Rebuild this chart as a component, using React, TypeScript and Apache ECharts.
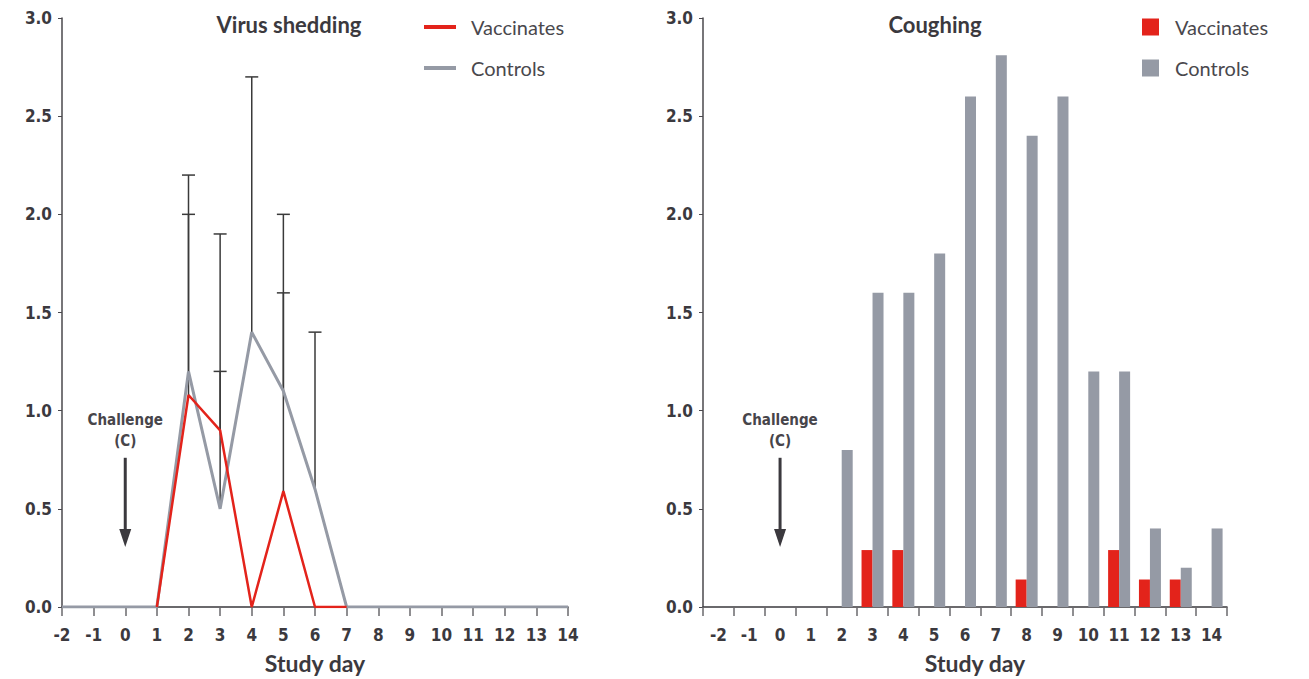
import React, { useEffect, useRef } from "react";
import * as echarts from "echarts";

// ---------- data ----------
const days = [-2, -1, 0, 1, 2, 3, 4, 5, 6, 7, 8, 9, 10, 11, 12, 13, 14];
const dayLabels = days.map((d) => String(d));

// Virus shedding (left)
const shedVaccDays = [1, 2, 3, 4, 5, 6, 7];
const shedVaccValues = [0, 1.08, 0.9, 0, 0.59, 0, 0];
const shedCtrlValues = [0, 0, 0, 0, 1.2, 0.5, 1.4, 1.1, 0.6, 0, 0, 0, 0, 0, 0, 0, 0];

// error bars (upper deviation)
const errDays = [2, 2, 3, 3, 4, 5, 5, 6];
const errLow = [1.2, 1.08, 0.5, 0.9, 1.4, 1.1, 0.59, 0.6];
const errHigh = [2.2, 2.0, 1.9, 1.2, 2.7, 2.0, 1.6, 1.4];

// Coughing (right)
const coughVaccValues = [0, 0, 0, 0, 0, 0.29, 0.29, 0, 0, 0, 0.14, 0, 0, 0.29, 0.14, 0.14, 0];
const coughCtrlValues = [0, 0, 0, 0, 0.8, 1.6, 1.6, 1.8, 2.6, 2.81, 2.4, 2.6, 1.2, 1.2, 0.4, 0.2, 0.4];

const RED = "#e3231b";
const GRAY = "#959aa5";
const DARK = "#3b393e";
const NUM_FONT = "'Liberation Sans Narrow', 'DejaVu Sans Condensed', Roboto, sans-serif";
const TXT_FONT = "Lato, 'Open Sans', sans-serif";

function annotationRender(params: any, api: any) {
  const x = api.value(0);
  const pText = api.coord([x, api.value(1)]);
  const pTop = api.coord([x, api.value(2)]);
  const pTip = api.coord([x, api.value(3)]);
  const headH = 18;
  const headW = 12;
  return {
    type: "group",
    children: [
      {
        type: "text",
        style: {
          text: "Challenge",
          x: pText[0],
          y: pText[1],
          align: "center",
          verticalAlign: "middle",
          fill: "#47454a",
          font: "bold 15px " + NUM_FONT,
        },
      },
      {
        type: "text",
        style: {
          text: "(C)",
          x: pText[0],
          y: pText[1] + 21,
          align: "center",
          verticalAlign: "middle",
          fill: "#47454a",
          font: "bold 15px " + NUM_FONT,
        },
      },
      {
        type: "line",
        shape: { x1: pTop[0], y1: pTop[1], x2: pTip[0], y2: pTip[1] - headH + 2 },
        style: { stroke: DARK, lineWidth: 3 },
      },
      {
        type: "polygon",
        shape: {
          points: [
            [pTip[0] - headW / 2, pTip[1] - headH],
            [pTip[0] + headW / 2, pTip[1] - headH],
            [pTip[0], pTip[1]],
          ],
        },
        style: { fill: DARK },
      },
    ],
  };
}

export default function App() {
  const ref = useRef<HTMLDivElement>(null);
  useEffect(() => {
    if (!ref.current) return;
    const chart = echarts.init(ref.current, null, { renderer: "svg" });

    const yAxisBase = {
      type: "value",
      min: 0,
      max: 3,
      interval: 0.5,
      axisLine: { show: true, onZero: false, lineStyle: { color: "#4a484d", width: 1.5 } },
      axisTick: { show: true, length: 4, lineStyle: { color: "#4a484d", width: 1 } },
      splitLine: { show: false },
      axisLabel: {
        margin: 10,
        color: DARK,
        fontFamily: NUM_FONT,
        fontWeight: "bold",
        fontSize: 17,
        formatter: (v: number) => v.toFixed(1),
      },
    };
    const xLabel = {
      margin: 19,
      color: DARK,
      fontFamily: NUM_FONT,
      fontWeight: "bold",
      fontSize: 17,
    };
    const xName = {
      name: "Study day",
      nameLocation: "middle",
      nameGap: 44,
      nameTextStyle: { color: DARK, fontFamily: TXT_FONT, fontWeight: "bold", fontSize: 23 },
    };
    const legendText = {
      color: "#4a484d",
      fontFamily: TXT_FONT,
      fontSize: 20,
      lineHeight: 22,
    };

    const option: any = {
      animation: false,
      title: [
        {
          text: "Virus shedding",
          left: 284,
          top: 8,
          textAlign: "center",
          textStyle: { color: DARK, fontFamily: TXT_FONT, fontWeight: "bold", fontSize: 22 },
        },
        {
          text: "Coughing",
          left: 930,
          top: 8,
          textAlign: "center",
          textStyle: { color: DARK, fontFamily: TXT_FONT, fontWeight: "bold", fontSize: 22 },
        },
      ],
      legend: [
        {
          orient: "vertical",
          left: 419,
          top: 11,
          icon: "rect",
          itemWidth: 32,
          itemHeight: 4,
          itemGap: 19,
          data: ["Vaccinates", "Controls"],
          selectedMode: false,
          textStyle: { ...legendText, padding: [0, 0, 0, 10] },
        },
        {
          orient: "vertical",
          left: 1137,
          top: 11,
          icon: "rect",
          itemWidth: 17,
          itemHeight: 17,
          itemGap: 19,
          data: ["Vaccinates", "Controls"],
          selectedMode: false,
          textStyle: { ...legendText, padding: [0, 0, 0, 11] },
        },
      ],
      grid: [
        { left: 62, right: 741, top: 18, bottom: 71 },
        { left: 703, right: 82, top: 18, bottom: 71 },
      ],
      xAxis: [
        {
          gridIndex: 0,
          type: "value",
          min: -2,
          max: 14,
          interval: 1,
          axisLine: { show: true, onZero: false, lineStyle: { color: "#3a383d", width: 1.5 } },
          axisTick: { show: true, length: 9, lineStyle: { color: "#6a686d", width: 1.5 } },
          splitLine: { show: false },
          axisLabel: xLabel,
          ...xName,
        },
        {
          gridIndex: 1,
          type: "category",
          data: dayLabels,
          boundaryGap: true,
          axisLine: { show: true, onZero: false, lineStyle: { color: "#3a383d", width: 1.5 } },
          axisTick: { show: true, length: 9, alignWithLabel: false, lineStyle: { color: "#6a686d", width: 1.5 } },
          axisLabel: { ...xLabel, interval: 0 },
          ...xName,
          nameTextStyle: { ...xName.nameTextStyle, padding: [0, 0, 0, 20] },
        },
      ],
      yAxis: [
        { ...yAxisBase, gridIndex: 0 },
        { ...yAxisBase, gridIndex: 1 },
      ],
      series: [
        {
          name: "errorbars",
          type: "custom",
          xAxisIndex: 0,
          yAxisIndex: 0,
          z: 1,
          silent: true,
          data: errDays.map((d, i) => [d, errLow[i], errHigh[i]]),
          renderItem: (params: any, api: any) => {
            const lo = api.coord([api.value(0), api.value(1)]);
            const hi = api.coord([api.value(0), api.value(2)]);
            const hw = 6.5;
            return {
              type: "group",
              children: [
                {
                  type: "line",
                  shape: { x1: lo[0], y1: lo[1], x2: hi[0], y2: hi[1] },
                  style: { stroke: "#3a3a3a", lineWidth: 1.5 },
                },
                {
                  type: "line",
                  shape: { x1: hi[0] - hw, y1: hi[1], x2: hi[0] + hw, y2: hi[1] },
                  style: { stroke: "#3a3a3a", lineWidth: 1.5 },
                },
              ],
            };
          },
        },
        {
          name: "Controls",
          type: "line",
          xAxisIndex: 0,
          yAxisIndex: 0,
          z: 2,
          color: GRAY,
          showSymbol: false,
          symbol: "none",
          lineStyle: { color: GRAY, width: 3 },
          data: days.map((d, i) => [d, shedCtrlValues[i]]),
        },
        {
          name: "Vaccinates",
          type: "line",
          xAxisIndex: 0,
          yAxisIndex: 0,
          z: 3,
          color: RED,
          showSymbol: false,
          symbol: "none",
          lineStyle: { color: RED, width: 2.5 },
          data: shedVaccDays.map((d, i) => [d, shedVaccValues[i]]),
        },
        {
          name: "Vaccinates",
          type: "bar",
          xAxisIndex: 1,
          yAxisIndex: 1,
          color: RED,
          barWidth: 11,
          barGap: "0%",
          itemStyle: { color: RED },
          data: coughVaccValues,
        },
        {
          name: "Controls",
          type: "bar",
          xAxisIndex: 1,
          yAxisIndex: 1,
          color: GRAY,
          barWidth: 11,
          barGap: "0%",
          itemStyle: { color: GRAY },
          data: coughCtrlValues,
        },
        {
          name: "annotLeft",
          type: "custom",
          xAxisIndex: 0,
          yAxisIndex: 0,
          silent: true,
          z: 5,
          data: [[0, 0.95, 0.76, 0.305]],
          renderItem: annotationRender,
        },
        {
          name: "annotRight",
          type: "custom",
          xAxisIndex: 1,
          yAxisIndex: 1,
          silent: true,
          z: 5,
          data: [[2, 0.95, 0.76, 0.305]],
          renderItem: annotationRender,
        },
      ],
    };
    chart.setOption(option);
    return () => chart.dispose();
  }, []);

  return (
    <div
      ref={ref}
      style={{ position: "absolute", left: 0, top: 0, width: 1309, height: 679, background: "#fff" }}
    />
  );
}
